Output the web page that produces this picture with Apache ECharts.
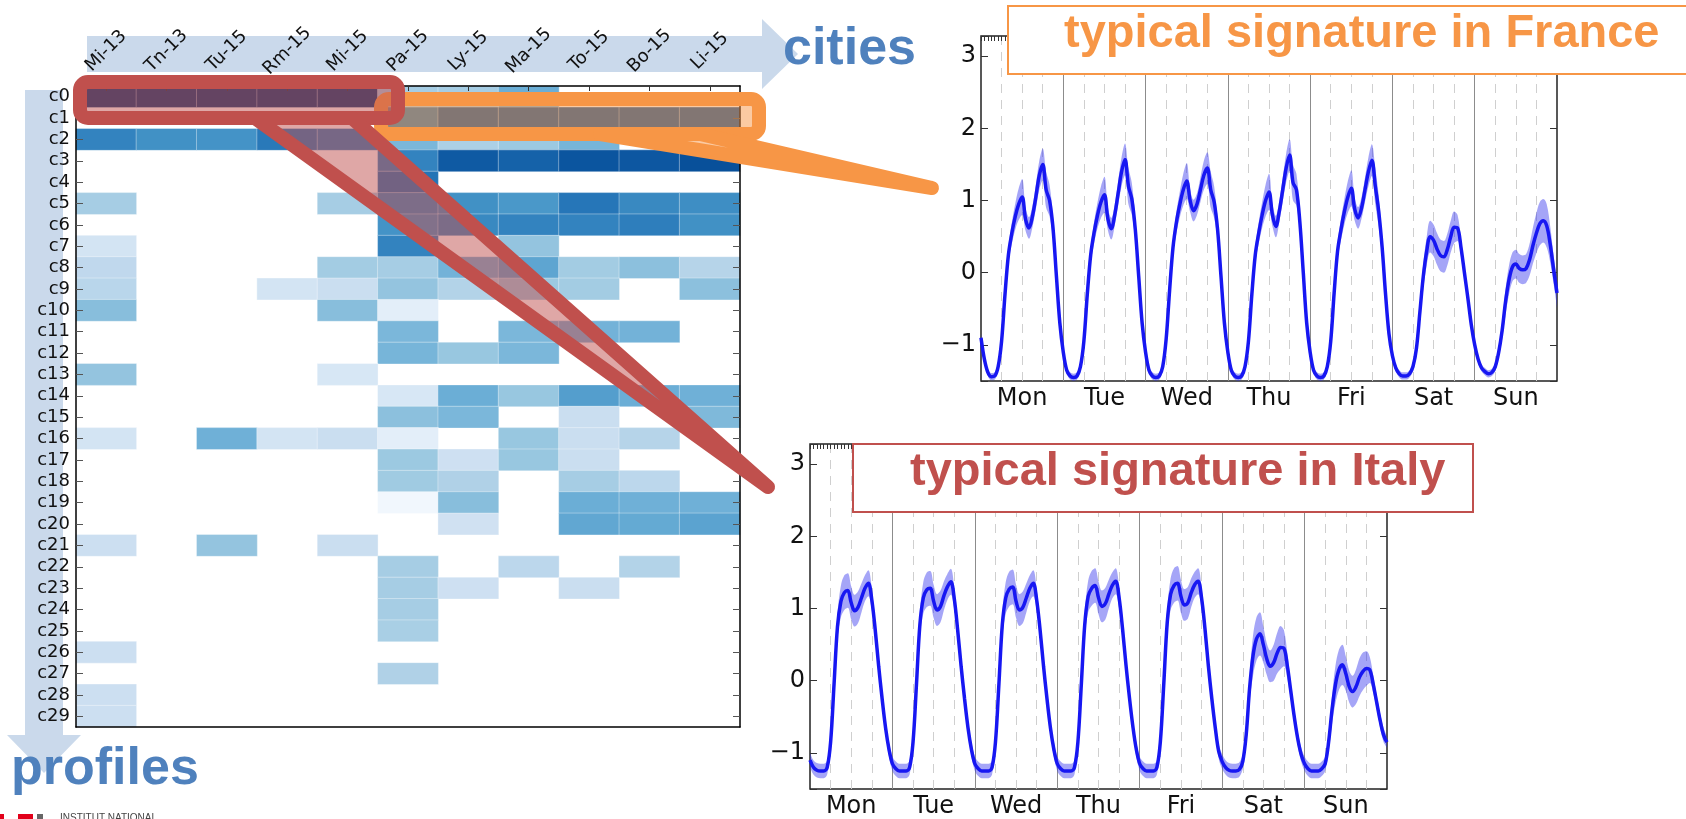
<!DOCTYPE html>
<html>
<head>
<meta charset="utf-8">
<title>city profiles and typical signatures</title>
<script src="https://cdn.jsdelivr.net/npm/echarts@6/dist/echarts.min.js"></script>
<style>
  html, body { margin: 0; padding: 0; background: #fff; }
  #main { width: 1686px; height: 819px; }
</style>
</head>
<body>
<div id="main"></div>
<script>
// heatmap: share of each profile (row) per city (column)
const cities = ['Mi-13', 'Tn-13', 'Tu-15', 'Rm-15', 'Mi-15', 'Pa-15', 'Ly-15', 'Ma-15', 'To-15', 'Bo-15', 'Li-15'];
const profiles = ['c0', 'c1', 'c2', 'c3', 'c4', 'c5', 'c6', 'c7', 'c8', 'c9',
  'c10', 'c11', 'c12', 'c13', 'c14', 'c15', 'c16', 'c17', 'c18', 'c19',
  'c20', 'c21', 'c22', 'c23', 'c24', 'c25', 'c26', 'c27', 'c28', 'c29'];
const shares = [
  [0.97, 0.97, 0.97, 0.97, 0.97, 0.35, 0.35, 0.5, 0, 0, 0],
  [0, 0, 0, 0, 0, 0.72, 0.85, 0.85, 0.85, 0.85, 0.85],
  [0.68, 0.63, 0.62, 0.72, 0.7, 0.46, 0.33, 0.38, 0.47, 0, 0],
  [0, 0, 0, 0, 0, 0.68, 0.84, 0.81, 0.86, 0.85, 0.88],
  [0, 0, 0, 0, 0, 0.74, 0, 0, 0, 0, 0],
  [0.35, 0, 0, 0, 0.35, 0.65, 0.63, 0.6, 0.73, 0.66, 0.64],
  [0, 0, 0, 0, 0, 0.62, 0.66, 0.68, 0.68, 0.7, 0.63],
  [0.18, 0, 0, 0, 0, 0.68, 0, 0.4, 0, 0, 0],
  [0.27, 0, 0, 0, 0.36, 0.35, 0.48, 0.54, 0.36, 0.42, 0.3],
  [0.29, 0, 0, 0.18, 0.23, 0.4, 0.31, 0.38, 0.36, 0, 0.42],
  [0.43, 0, 0, 0, 0.43, 0.1, 0, 0, 0, 0, 0],
  [0, 0, 0, 0, 0, 0.46, 0, 0.46, 0.48, 0.48, 0],
  [0, 0, 0, 0, 0, 0.47, 0.39, 0.46, 0, 0, 0],
  [0.4, 0, 0, 0, 0.16, 0, 0, 0, 0, 0, 0],
  [0, 0, 0, 0, 0, 0.16, 0.5, 0.39, 0.57, 0.5, 0.49],
  [0, 0, 0, 0, 0, 0.42, 0.46, 0, 0.23, 0, 0.45],
  [0.18, 0, 0.49, 0.18, 0.23, 0.1, 0, 0.39, 0.23, 0.3, 0],
  [0, 0, 0, 0, 0, 0.38, 0.21, 0.39, 0.23, 0, 0],
  [0, 0, 0, 0, 0, 0.37, 0.32, 0, 0.35, 0.28, 0],
  [0, 0, 0, 0, 0, 0.03, 0.43, 0, 0.5, 0.49, 0.49],
  [0, 0, 0, 0, 0, 0, 0.2, 0, 0.53, 0.52, 0.55],
  [0.22, 0, 0.4, 0, 0.23, 0, 0, 0, 0, 0, 0],
  [0, 0, 0, 0, 0, 0.35, 0, 0.28, 0, 0.31, 0],
  [0, 0, 0, 0, 0, 0.35, 0.21, 0, 0.23, 0, 0],
  [0, 0, 0, 0, 0, 0.35, 0, 0, 0, 0, 0],
  [0, 0, 0, 0, 0, 0.34, 0, 0, 0, 0, 0],
  [0.22, 0, 0, 0, 0, 0, 0, 0, 0, 0, 0],
  [0, 0, 0, 0, 0, 0.32, 0, 0, 0, 0, 0],
  [0.22, 0, 0, 0, 0, 0, 0, 0, 0, 0, 0],
  [0.22, 0, 0, 0, 0, 0, 0, 0, 0, 0, 0]
];

// weekly signatures, hourly values (one row per day, Mon..Sun)
const dayNames = ['Mon', 'Tue', 'Wed', 'Thu', 'Fri', 'Sat', 'Sun'];

const franceMean = [
  [-0.9, -1.2, -1.38, -1.44, -1.43, -1.3, -0.95, -0.3, 0.25, 0.55, 0.78, 0.95, 1.05, 0.74, 0.62, 0.78, 1.05, 1.35, 1.5, 1.15, 1.0, 0.62, -0.05, -0.7],
  [-1.1, -1.35, -1.43, -1.45, -1.43, -1.3, -0.95, -0.3, 0.25, 0.56, 0.8, 0.98, 1.08, 0.75, 0.61, 0.8, 1.1, 1.4, 1.57, 1.2, 1.02, 0.6, -0.05, -0.7],
  [-1.1, -1.35, -1.43, -1.45, -1.43, -1.3, -0.92, -0.25, 0.35, 0.7, 0.95, 1.15, 1.27, 1.0, 0.86, 0.95, 1.15, 1.35, 1.45, 1.15, 0.98, 0.6, -0.05, -0.7],
  [-1.1, -1.35, -1.43, -1.45, -1.43, -1.3, -0.95, -0.3, 0.25, 0.55, 0.8, 1.0, 1.12, 0.8, 0.64, 0.85, 1.15, 1.45, 1.63, 1.25, 1.15, 0.7, 0.0, -0.7],
  [-1.1, -1.35, -1.43, -1.45, -1.43, -1.3, -0.95, -0.28, 0.3, 0.6, 0.85, 1.05, 1.17, 0.88, 0.76, 0.9, 1.15, 1.4, 1.56, 1.2, 0.85, 0.35, -0.3, -0.85],
  [-1.15, -1.32, -1.4, -1.43, -1.43, -1.4, -1.3, -1.05, -0.55, -0.05, 0.3, 0.5, 0.45, 0.33, 0.24, 0.22, 0.32, 0.5, 0.63, 0.62, 0.35, 0.0, -0.35, -0.72],
  [-1.0, -1.2, -1.32, -1.37, -1.4, -1.38, -1.3, -1.1, -0.8, -0.4, -0.1, 0.08, 0.12, 0.06, 0.04, 0.06, 0.18, 0.38, 0.55, 0.68, 0.72, 0.65, 0.4, 0.05]
];
const franceEnd = -0.28;
const franceSpreadWeekday = [0.06, 0.05, 0.05, 0.05, 0.05, 0.06, 0.08, 0.1, 0.12, 0.15, 0.18, 0.22, 0.25, 0.16, 0.15, 0.15, 0.17, 0.2, 0.22, 0.25, 0.22, 0.15, 0.08, 0.06];
const franceSpreadSat = [0.06, 0.05, 0.05, 0.05, 0.05, 0.05, 0.06, 0.08, 0.12, 0.18, 0.2, 0.22, 0.22, 0.22, 0.22, 0.22, 0.22, 0.22, 0.22, 0.18, 0.12, 0.1, 0.08, 0.06];
const franceSpreadSun = [0.06, 0.05, 0.05, 0.05, 0.05, 0.05, 0.06, 0.08, 0.12, 0.18, 0.2, 0.2, 0.2, 0.2, 0.2, 0.2, 0.22, 0.25, 0.28, 0.3, 0.3, 0.3, 0.25, 0.2];
const franceSpreadEnd = 0.2;

const italyMean = [
  [-1.1, -1.2, -1.24, -1.25, -1.25, -1.2, -0.85, -0.05, 0.75, 1.1, 1.22, 1.25, 1.08, 0.97, 1.02, 1.15, 1.28, 1.35, 1.12, 0.7, 0.2, -0.25, -0.65, -0.95],
  [-1.15, -1.22, -1.25, -1.25, -1.25, -1.2, -0.85, -0.05, 0.78, 1.15, 1.26, 1.28, 1.1, 0.98, 1.03, 1.18, 1.3, 1.37, 1.14, 0.7, 0.2, -0.25, -0.65, -0.95],
  [-1.15, -1.22, -1.25, -1.25, -1.25, -1.2, -0.85, -0.05, 0.78, 1.15, 1.27, 1.3, 1.1, 0.98, 1.02, 1.15, 1.28, 1.35, 1.12, 0.7, 0.2, -0.25, -0.65, -0.95],
  [-1.15, -1.22, -1.25, -1.25, -1.25, -1.2, -0.85, -0.05, 0.78, 1.17, 1.28, 1.32, 1.15, 1.03, 1.07, 1.2, 1.32, 1.38, 1.15, 0.72, 0.22, -0.23, -0.63, -0.95],
  [-1.15, -1.22, -1.25, -1.25, -1.25, -1.2, -0.85, -0.05, 0.8, 1.2, 1.32, 1.35, 1.17, 1.05, 1.08, 1.22, 1.33, 1.38, 1.15, 0.72, 0.2, -0.25, -0.65, -0.98],
  [-1.12, -1.2, -1.24, -1.25, -1.25, -1.23, -1.12, -0.75, -0.1, 0.35, 0.58, 0.65, 0.5, 0.3, 0.2, 0.25, 0.38, 0.46, 0.45, 0.2, -0.15, -0.5, -0.8, -1.02],
  [-1.15, -1.22, -1.25, -1.25, -1.25, -1.22, -1.15, -0.85, -0.4, -0.05, 0.15, 0.22, 0.1, -0.08, -0.15, -0.08, 0.05, 0.13, 0.17, 0.15, -0.05, -0.3, -0.55, -0.75]
];
const italyEnd = -0.85;
const italySpreadWeekday = [0.1, 0.1, 0.1, 0.1, 0.1, 0.1, 0.1, 0.12, 0.18, 0.22, 0.24, 0.24, 0.23, 0.22, 0.22, 0.2, 0.18, 0.18, 0.15, 0.1, 0.08, 0.08, 0.08, 0.1];
const italySpreadSat = [0.1, 0.1, 0.1, 0.1, 0.1, 0.1, 0.1, 0.15, 0.2, 0.28, 0.3, 0.3, 0.25, 0.22, 0.22, 0.25, 0.28, 0.3, 0.25, 0.18, 0.12, 0.1, 0.1, 0.1];
const italySpreadSun = [0.1, 0.1, 0.1, 0.1, 0.1, 0.1, 0.1, 0.14, 0.2, 0.26, 0.28, 0.28, 0.24, 0.22, 0.22, 0.24, 0.26, 0.26, 0.24, 0.18, 0.12, 0.1, 0.1, 0.1];
const italySpreadEnd = 0.08;

const hours = [];
for (let h = 0; h <= 168; h++) hours.push(h);

function week(rows, last) {
  return rows.reduce((all, r) => all.concat(r), []).concat([last]);
}

const blues = ['#f7fbff', '#deebf7', '#c6dbef', '#9ecae1', '#6baed6', '#4292c6', '#2171b5', '#08519c', '#08306b'];
const tickFont = 'DejaVu Sans';

let heatData = [];
shares.forEach((row, r) => {
  row.forEach((v, c) => {
    if (v > 0) heatData.push([c, r, v]);
  });
});

function yFmt(v) {
  if (!Number.isInteger(v)) return '';
  return v < 0 ? '\u2212' + (-v) : String(v);
}

// three x axes per line chart: labels + dashed 6h guides, solid day lines, hourly top ticks
function lineXAxes(g) {
  return [
    {
      type: 'category', gridIndex: g, data: hours, boundaryGap: false,
      axisLine: { show: false }, axisTick: { show: false },
      axisLabel: {
        interval: (i) => i % 24 === 12,
        formatter: (v) => dayNames[Math.floor(v / 24)],
        fontSize: 24, color: '#111', margin: 6, fontFamily: tickFont
      },
      splitLine: { show: true, interval: (i) => i % 6 === 0 && i % 24 !== 0, lineStyle: { color: '#cfcfcf', type: [9, 7], width: 1 } }
    },
    {
      type: 'category', gridIndex: g, data: hours, boundaryGap: false,
      axisLine: { show: false }, axisTick: { show: false }, axisLabel: { show: false },
      splitLine: { show: true, interval: (i) => i % 24 === 0 && i > 0 && i < 168, lineStyle: { color: '#8c8c8c', width: 1 } }
    },
    {
      type: 'category', gridIndex: g, data: hours, boundaryGap: false, position: 'top',
      axisLine: { show: false }, axisLabel: { show: false },
      axisTick: { show: true, inside: true, interval: 0, length: 5, lineStyle: { color: '#333' } }
    }
  ];
}

function lineYAxes(g) {
  return [
    {
      type: 'value', gridIndex: g, min: -1.5, max: 3.28, splitNumber: 5,
      axisLine: { show: false }, splitLine: { show: false },
      axisTick: { show: true, inside: true, length: 7, lineStyle: { color: '#333' } },
      axisLabel: { fontSize: 24, color: '#111', margin: 5, formatter: yFmt, fontFamily: tickFont }
    },
    {
      type: 'value', gridIndex: g, min: -1.5, max: 3.28, splitNumber: 5, position: 'right',
      axisLine: { show: false }, splitLine: { show: false }, axisLabel: { show: false },
      axisTick: { show: true, inside: true, length: 7, lineStyle: { color: '#333' } }
    }
  ];
}

function signature(key, xi, yi, mean, spread) {
  const low = mean.map((m, i) => +(m - spread[i]).toFixed(3));
  const band = spread.map((s) => +(2 * s).toFixed(3));
  return [
    {
      type: 'line', xAxisIndex: xi, yAxisIndex: yi, data: low, stack: key, stackStrategy: 'all',
      smooth: 0.35, symbol: 'none', lineStyle: { opacity: 0 }, silent: true
    },
    {
      type: 'line', xAxisIndex: xi, yAxisIndex: yi, data: band, stack: key, stackStrategy: 'all',
      smooth: 0.35, symbol: 'none', lineStyle: { opacity: 0 }, silent: true,
      areaStyle: { color: 'rgba(40,40,235,0.42)', opacity: 1 }
    },
    {
      type: 'line', xAxisIndex: xi, yAxisIndex: yi, data: mean,
      smooth: 0.35, symbol: 'none', lineStyle: { color: '#1717f2', width: 3.5 }
    }
  ];
}

const frMean = week(franceMean, franceEnd);
const frSpread = week([franceSpreadWeekday, franceSpreadWeekday, franceSpreadWeekday, franceSpreadWeekday, franceSpreadWeekday, franceSpreadSat, franceSpreadSun], franceSpreadEnd);
const itMean = week(italyMean, italyEnd);
const itSpread = week([italySpreadWeekday, italySpreadWeekday, italySpreadWeekday, italySpreadWeekday, italySpreadWeekday, italySpreadSat, italySpreadSun], italySpreadEnd);

const arrowFill = 'rgba(79,129,189,0.3)';
const orange = '#f79646';
const red = '#c0504d';

let chart = echarts.init(document.getElementById('main'));

let option = {
  animation: false,
  backgroundColor: '#fff',
  grid: [
    { left: 76, top: 86, width: 664, height: 641 },
    { left: 981, top: 36, width: 576, height: 345, show: true, borderColor: '#222', borderWidth: 1.5 },
    { left: 810, top: 444, width: 577, height: 345, show: true, borderColor: '#222', borderWidth: 1.5 }
  ],
  visualMap: {
    show: false, type: 'continuous', seriesIndex: 0, min: 0, max: 1,
    inRange: { color: blues }
  },
  xAxis: [
    {
      type: 'category', gridIndex: 0, data: cities, position: 'top', z: 3,
      axisLine: { show: true, lineStyle: { color: '#000', width: 1.5 } },
      axisTick: { show: true, inside: true, alignWithLabel: true, length: 5, lineStyle: { color: '#333' } },
      axisLabel: {
        interval: 0, rotate: -45, align: 'center', verticalAlign: 'middle', margin: 35,
        fontSize: 18, color: '#111', fontFamily: tickFont
      },
      splitLine: { show: false }
    },
    {
      type: 'category', gridIndex: 0, data: cities, position: 'bottom', z: 3,
      axisLine: { show: true, lineStyle: { color: '#000', width: 1.5 } },
      axisTick: { show: false }, axisLabel: { show: false }
    }
  ].concat(lineXAxes(1), lineXAxes(2)),
  yAxis: [
    {
      type: 'category', gridIndex: 0, data: profiles, inverse: true, z: 3,
      axisLine: { show: true, lineStyle: { color: '#000', width: 1.5 } },
      axisTick: { show: true, inside: true, alignWithLabel: true, length: 7, lineStyle: { color: '#555' } },
      axisLabel: { interval: 0, margin: 6, fontSize: 18, color: '#111', fontFamily: tickFont }
    },
    {
      type: 'category', gridIndex: 0, data: profiles, inverse: true, position: 'right', z: 3,
      axisLine: { show: true, lineStyle: { color: '#000', width: 1.5 } },
      axisTick: { show: true, inside: true, alignWithLabel: true, length: 7, lineStyle: { color: '#555' } },
      axisLabel: { show: false }
    }
  ].concat(lineYAxes(1), lineYAxes(2)),
  series: [
    {
      type: 'heatmap', xAxisIndex: 0, yAxisIndex: 0, data: heatData,
      itemStyle: { borderColor: 'rgba(255,255,255,0.35)', borderWidth: 1 },
      emphasis: { disabled: true }
    }
  ].concat(signature('fr', 2, 2, frMean, frSpread), signature('it', 5, 4, itMean, itSpread)),
  graphic: [
    // direction arrows behind the heatmap labels
    { type: 'polygon', z: -1, shape: { points: [[87, 36], [762, 36], [762, 19], [798, 54], [762, 89], [762, 72], [87, 72]] }, style: { fill: arrowFill } },
    { type: 'polygon', z: -1, shape: { points: [[25, 90], [63, 90], [63, 735], [81, 735], [44, 773], [7, 735], [25, 735]] }, style: { fill: arrowFill } },
    { type: 'text', z: 60, style: { text: 'cities', x: 783, y: 50, font: 'bold 52px "Liberation Sans", Arial, sans-serif', fill: '#4f81bd', align: 'left', verticalAlign: 'middle' } },
    { type: 'text', z: 60, style: { text: 'profiles', x: 11, y: 770, font: 'bold 52px "Liberation Sans", Arial, sans-serif', fill: '#4f81bd', align: 'left', verticalAlign: 'middle' } },
    // France highlight (c1 row, French cities)
    { type: 'rect', z: 50, shape: { x: 381, y: 99, width: 378, height: 35, r: 8 }, style: { fill: 'rgba(247,150,70,0.5)', stroke: orange, lineWidth: 14 } },
    { type: 'polygon', z: 50, shape: { points: [[600, 134], [932, 188], [700, 134]] }, style: { fill: 'rgba(247,150,70,0.5)', stroke: orange, lineWidth: 14, lineJoin: 'round' } },
    // Italy highlight (c0 row, Italian cities)
    { type: 'rect', z: 51, shape: { x: 80, y: 82, width: 318, height: 36, r: 8 }, style: { fill: 'rgba(192,80,77,0.5)', stroke: red, lineWidth: 14 } },
    { type: 'polygon', z: 51, shape: { points: [[255, 118], [768, 487], [352, 118]] }, style: { fill: 'rgba(192,80,77,0.5)', stroke: red, lineWidth: 14, lineJoin: 'round' } },
    // title boxes
    { type: 'rect', z: 60, shape: { x: 1008, y: 6, width: 700, height: 68 }, style: { fill: '#fff', stroke: orange, lineWidth: 2 } },
    { type: 'text', z: 61, style: { text: 'typical signature in France', x: 1064, y: 34, font: 'bold 47px "Liberation Sans", Arial, sans-serif', fill: orange, align: 'left', verticalAlign: 'middle' } },
    { type: 'rect', z: 60, shape: { x: 853, y: 444, width: 620, height: 68 }, style: { fill: '#fff', stroke: red, lineWidth: 2 } },
    { type: 'text', z: 61, style: { text: 'typical signature in Italy', x: 910, y: 472, font: 'bold 47px "Liberation Sans", Arial, sans-serif', fill: red, align: 'left', verticalAlign: 'middle' } },
    // logo sliver at the bottom edge
    { type: 'rect', z: 60, shape: { x: 0, y: 814, width: 4, height: 5 }, style: { fill: '#e2001a' } },
    { type: 'rect', z: 60, shape: { x: 18, y: 814, width: 15, height: 5 }, style: { fill: '#e2001a' } },
    { type: 'rect', z: 60, shape: { x: 37, y: 814, width: 6, height: 5 }, style: { fill: '#666' } },
    { type: 'text', z: 60, style: { text: 'INSTITUT NATIONAL', x: 60, y: 813, font: '10px "Liberation Sans", Arial, sans-serif', fill: '#444', align: 'left', verticalAlign: 'top' } }
  ]
};

chart.setOption(option);
</script>
</body>
</html>
